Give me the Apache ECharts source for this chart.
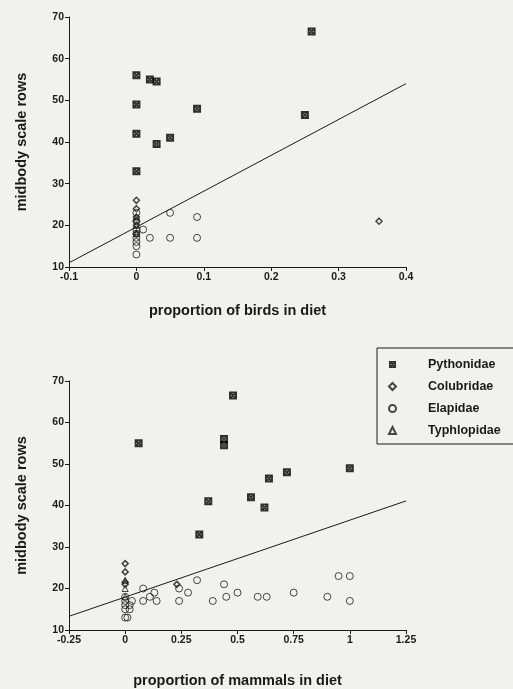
<!DOCTYPE html>
<html>
<head>
<meta charset="utf-8">
<script src="https://cdn.jsdelivr.net/npm/echarts@6/dist/echarts.min.js"></script>
<style>
  html, body { margin: 0; padding: 0; background: #f1f1ef; }
  #chart { width: 513px; height: 689px; }
</style>
</head>
<body>
<div id="chart"></div>
<script>
// family names (legend order)
const families = ['Pythonidae', 'Colubridae', 'Elapidae', 'Typhlopidae'];

// top panel: [proportion of birds, midbody scale rows]
const birdsPython = [[0,56],[0,49],[0,42],[0,33],[0.02,55],[0.03,54.5],[0.03,39.5],[0.05,41],[0.09,48],[0.25,46.5],[0.26,66.5]];
const birdsColubrid = [[0,26],[0,24],[0,22],[0,21],[0,20],[0,18],[0.36,21]];
const birdsElapid = [[0,23],[0,21],[0,19],[0,18],[0,17],[0,16],[0,15],[0,13],[0.01,19],[0.02,17],[0.05,23],[0.05,17],[0.09,22],[0.09,17]];
const birdsTyphlopid = [[0,22],[0,20],[0,18]];
const birdsFit = [[-0.1,11],[0.4,54]];

// bottom panel: [proportion of mammals, midbody scale rows]
const mammalsPython = [[0.06,55],[0.33,33],[0.37,41],[0.44,56],[0.44,54.5],[0.48,66.5],[0.56,42],[0.62,39.5],[0.64,46.5],[0.72,48],[1,49]];
const mammalsColubrid = [[0,26],[0,24],[0,21.5],[0,21],[0.23,21]];
const mammalsElapid = [[0,18],[0,17],[0,16],[0,15],[0,13],[0.01,13],[0.02,15],[0.02,16],[0.03,17],[0.08,20],[0.08,17],[0.11,18],[0.13,19],[0.14,17],[0.24,20],[0.24,17],[0.28,19],[0.32,22],[0.39,17],[0.44,21],[0.45,18],[0.5,19],[0.59,18],[0.63,18],[0.75,19],[0.9,18],[0.95,23],[1,23],[1,17]];
const mammalsTyphlopid = [[0,22],[0,20],[0,18]];
const mammalsFit = [[-0.25,13.3],[1.25,41.1]];

// y ticks
const yMin = 10, yMax = 70, yStep = 10;

let chart = echarts.init(document.getElementById('chart'));

// boxed X marker for pythons (thick frame + thick cross)
const pythonSymbol = 'path://M0,0H10V10H0Z M2.5,2.5V7.5H7.5V2.5Z M1.5,0L10,8.5L8.5,10L0,1.5Z M8.5,0L10,1.5L1.5,10L0,8.5Z';

const ink = '#1a1a1a';
const bg = '#f1f1ef';
const font = 'Liberation Sans';

function xAxisOf(idx, min, max, step, title, gap) {
    return {
        type: 'value', gridIndex: idx, min: min, max: max, interval: step,
        name: title, nameLocation: 'middle', nameGap: gap,
        nameTextStyle: { color: ink, fontSize: 14.5, fontWeight: 'bold', fontFamily: font },
        splitLine: { show: false },
        axisLine: { onZero: false, lineStyle: { color: ink, width: 1 } },
        axisTick: { length: 4, lineStyle: { color: ink } },
        axisLabel: { color: ink, fontSize: 10.5, fontWeight: 'bold', fontFamily: font, margin: 5 }
    };
}

function yAxisOf(idx) {
    return {
        type: 'value', gridIndex: idx, min: yMin, max: yMax, interval: yStep,
        name: 'midbody scale rows', nameLocation: 'middle', nameGap: 40,
        nameTextStyle: { color: ink, fontSize: 14.5, fontWeight: 'bold', fontFamily: font },
        splitLine: { show: false },
        axisLine: { show: true, onZero: false, lineStyle: { color: ink, width: 1 } },
        axisTick: { show: true, length: 4, lineStyle: { color: ink } },
        axisLabel: { color: ink, fontSize: 10.5, fontWeight: 'bold', fontFamily: font, margin: 5 }
    };
}

function pointSeries(idx, data) {
    return [
        { name: families[0], type: 'scatter', xAxisIndex: idx, yAxisIndex: idx, data: data[0],
          symbol: pythonSymbol, symbolSize: 8, itemStyle: { color: '#000' } },
        { name: families[1], type: 'scatter', xAxisIndex: idx, yAxisIndex: idx, data: data[1],
          symbol: 'diamond', symbolSize: 6, itemStyle: { color: bg, borderColor: ink, borderWidth: 1.5 } },
        { name: families[2], type: 'scatter', xAxisIndex: idx, yAxisIndex: idx, data: data[2],
          symbol: 'circle', symbolSize: 7, itemStyle: { color: 'rgba(0,0,0,0)', borderColor: ink, borderWidth: 1 } },
        { name: families[3], type: 'scatter', xAxisIndex: idx, yAxisIndex: idx, data: data[3],
          symbol: 'triangle', symbolSize: 6, itemStyle: { color: 'rgba(0,0,0,0)', borderColor: ink, borderWidth: 1 } },
        { type: 'line', xAxisIndex: idx, yAxisIndex: idx, data: data[4], symbol: 'none', silent: true,
          lineStyle: { color: ink, width: 1 }, z: 1 }
    ];
}

let option = {
    backgroundColor: bg,
    animation: false,
    grid: [
        { left: 69, top: 17, width: 337, height: 250 },
        { left: 69, top: 381, width: 337, height: 249 }
    ],
    legend: {
        data: families,
        orient: 'vertical',
        left: 377, top: 348,
        backgroundColor: bg,
        borderColor: ink, borderWidth: 1, borderRadius: 0,
        padding: [10, 14, 7, 11],
        itemWidth: 7, itemHeight: 7, itemGap: 9,
        selectedMode: false,
        textStyle: { color: ink, fontSize: 12.5, fontWeight: 'bold', fontFamily: font, padding: [0, 0, 0, 27] }
    },
    xAxis: [
        xAxisOf(0, -0.1, 0.4, 0.1, 'proportion of birds in diet', 36),
        xAxisOf(1, -0.25, 1.25, 0.25, 'proportion of mammals in diet', 43)
    ],
    yAxis: [yAxisOf(0), yAxisOf(1)],
    series: [].concat(
        pointSeries(0, [birdsPython, birdsColubrid, birdsElapid, birdsTyphlopid, birdsFit]),
        pointSeries(1, [mammalsPython, mammalsColubrid, mammalsElapid, mammalsTyphlopid, mammalsFit])
    )
};

chart.setOption(option);
</script>
</body>
</html>
